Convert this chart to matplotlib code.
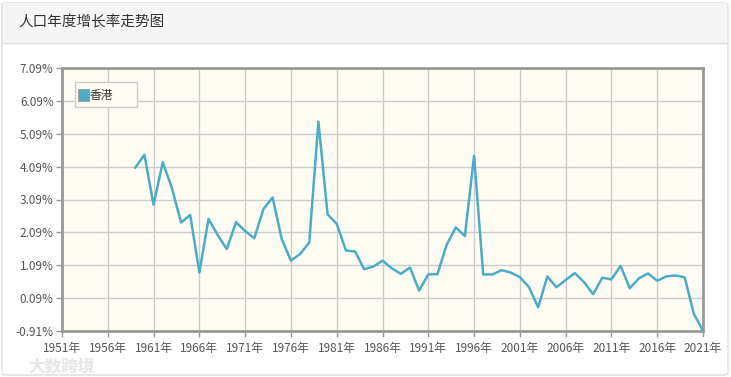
import matplotlib
matplotlib.use("Agg")
import matplotlib.pyplot as plt
from matplotlib.patches import FancyBboxPatch, Rectangle
from matplotlib.lines import Line2D

plt.rcParams['font.family'] = ['Noto Sans CJK SC', 'DejaVu Sans']

title = "人口年度增长率走势图"
series_name = "香港"
years = list(range(1959, 2022))
growth = [4.06, 4.45, 2.93, 4.22, 3.44, 2.39, 2.62, 0.87, 2.50, 2.01, 1.58, 2.40,
          2.13, 1.91, 2.80, 3.15, 1.88, 1.23, 1.43, 1.78, 5.46, 2.64, 2.35, 1.54,
          1.51, 0.97, 1.05, 1.23, 1.00, 0.83, 1.02, 0.32, 0.81, 0.82, 1.71, 2.24,
          1.98, 4.42, 0.81, 0.81, 0.94, 0.87, 0.73, 0.42, -0.19, 0.75, 0.42, 0.64,
          0.85, 0.58, 0.21, 0.71, 0.66, 1.07, 0.39, 0.69, 0.84, 0.62, 0.75, 0.78,
          0.72, -0.39, -0.91]
x_ticks = list(range(1951, 2022, 5))
x_labels = [f"{y}年" for y in x_ticks]
y_ticks = [-0.91, 0.09, 1.09, 2.09, 3.09, 4.09, 5.09, 6.09, 7.09]
y_labels = [f"{v:.2f}%" for v in y_ticks]

W, H = 731, 377
fig = plt.figure(figsize=(W / 100, H / 100), dpi=100)
fig.patch.set_facecolor('white')

# card frame
card = FancyBboxPatch((2 / W, 2 / H), (W - 5) / W, (H - 5) / H,
                      boxstyle="round,pad=0,rounding_size=0.005",
                      transform=fig.transFigure, facecolor='white',
                      edgecolor='#dddddd', linewidth=1, zorder=-2)
fig.patches.append(card)
header = Rectangle((3 / W, 1 - 43 / H), (W - 7) / W, 40 / H,
                   transform=fig.transFigure, facecolor='#f5f5f5',
                   edgecolor='none', zorder=-1)
fig.patches.append(header)
fig.add_artist(Line2D([3 / W, (W - 4) / W], [1 - 43 / H, 1 - 43 / H],
                      transform=fig.transFigure, color='#dddddd', lw=1,
                      zorder=-1))
fig.text(18 / W, 1 - 22 / H, title, fontsize=10.5, color='#333333',
         va='center', ha='left')

AX_L, AX_T, AX_W, AX_H = 62, 68, 641, 263
ax = fig.add_axes([AX_L / W, 1 - (AX_T + AX_H) / H, AX_W / W, AX_H / H])
ax.set_zorder(1)
ax.set_facecolor('#fffcf4')
ax.plot(years, growth, color='#4aacc6', lw=1.8, label=series_name, zorder=3)
ax.set_xlim(1951, 2021)
ax.set_ylim(-0.91, 7.09)
ax.set_xticks(x_ticks)
ax.set_xticklabels(x_labels)
ax.set_yticks(y_ticks)
ax.set_yticklabels(y_labels)
ax.grid(True, color='#cccccc', lw=1)
ax.set_axisbelow(True)
for s in ax.spines.values():
    s.set_color('#999999')
    s.set_linewidth(2)
ax.tick_params(axis='both', colors='#999999', labelcolor='#555555',
               labelsize=8.5, length=4, width=1)
ax.tick_params(axis='x', pad=4)
ax.tick_params(axis='y', pad=2)

# legend box (pixel coords converted to axes fraction)
def ax_frac(px, py):
    return ((px - AX_L) / AX_W, 1 - (py - AX_T) / AX_H)

bx0, by0 = ax_frac(75, 107)
bx1, by1 = ax_frac(137, 82)
ax.add_patch(Rectangle((bx0, by0), bx1 - bx0, by1 - by0, transform=ax.transAxes,
                       facecolor='#fffcf4', edgecolor='#cccccc', lw=1, zorder=4))
sx0, sy0 = ax_frac(78, 101)
sx1, sy1 = ax_frac(89, 89)
ax.add_patch(Rectangle((sx0, sy0), sx1 - sx0, sy1 - sy0, transform=ax.transAxes,
                       facecolor='#4aacc6', edgecolor='#999999', lw=0.6, zorder=5))
tx, ty = ax_frac(90, 95)
ax.text(tx, ty, series_name, transform=ax.transAxes, fontsize=8.5,
        color='#333333', va='center', ha='left', zorder=5)

fig.text(28 / W, 1 - 366 / H, "大数跨境", fontsize=12, color='#e6e6e6',
         va='center', ha='left', fontweight='bold')

fig.savefig("out.png", dpi=100)
